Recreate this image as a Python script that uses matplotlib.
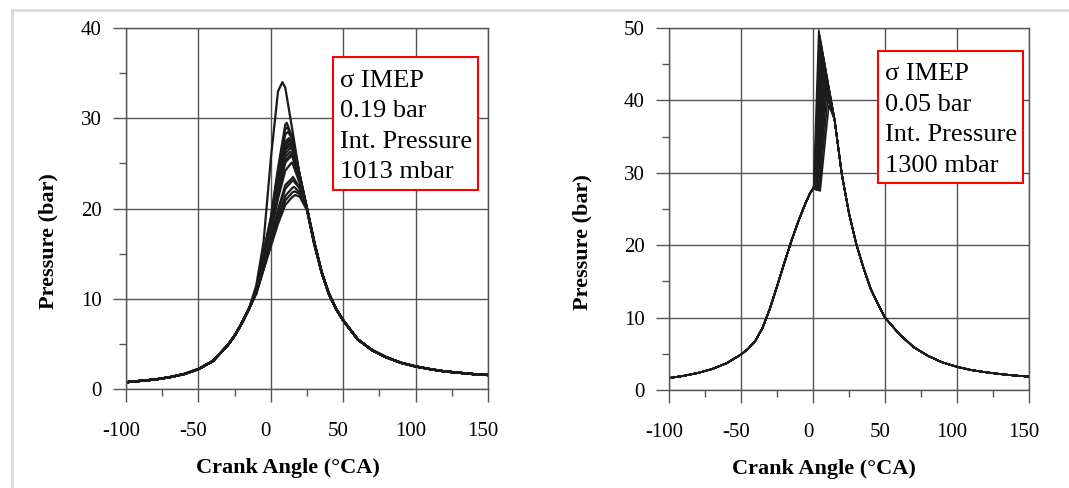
import numpy as np
import matplotlib.pyplot as plt
from matplotlib.lines import Line2D
from matplotlib.patches import Rectangle
from matplotlib.transforms import ScaledTranslation

plt.rcParams['font.family'] = ['Liberation Serif', 'DejaVu Serif']
plt.rcParams['axes.unicode_minus'] = False

# ---- left panel: int. pressure 1013 mbar ----
left_mot_ang = [-100, -90, -80, -70, -60, -50, -40, -30, -25, -20, -15]
left_mot_p = [0.75, 0.9, 1.05, 1.3, 1.65, 2.2, 3.1, 4.8, 5.9, 7.3, 8.9]

left_cyc_ang = [-10, -5, 0, 5, 10, 15, 20, 25, 30]
left_cycles = [
    [11.5, 16.3, 25.5, 33.0, 33.4, 28.6, 23.6, 20.0, 16.3],
    [11.1, 15.2, 19.0, 24.5, 29.3, 27.8, 23.6, 19.9, 16.0],
    [11.1, 15.1, 18.8, 24.1, 28.8, 27.7, 23.6, 19.9, 16.1],
    [11.0, 14.9, 18.6, 23.7, 28.2, 27.6, 23.7, 20.0, 16.1],
    [11.0, 14.8, 18.3, 23.2, 27.4, 27.3, 23.6, 19.9, 16.2],
    [11.0, 14.7, 18.2, 23.0, 27.1, 27.3, 23.7, 20.0, 16.2],
    [10.9, 14.7, 18.2, 22.9, 27.0, 27.2, 23.6, 19.9, 16.1],
    [10.9, 14.6, 18.1, 22.7, 26.7, 26.9, 23.5, 19.9, 16.2],
    [10.9, 14.6, 18.0, 22.6, 26.5, 26.8, 23.5, 20.0, 16.3],
    [10.9, 14.5, 17.9, 22.3, 26.1, 26.5, 23.4, 19.9, 16.2],
    [10.9, 14.4, 17.7, 22.0, 25.7, 26.1, 23.2, 19.9, 16.2],
    [10.8, 14.3, 17.6, 21.8, 25.3, 25.9, 23.2, 20.0, 16.3],
    [10.8, 14.3, 17.5, 21.6, 25.1, 25.7, 23.1, 19.9, 16.2],
    [10.8, 14.1, 17.2, 21.1, 24.2, 25.0, 22.8, 19.9, 16.2],
    [10.7, 13.7, 16.6, 19.9, 22.6, 23.4, 22.3, 20.0, 16.3],
    [10.7, 13.6, 16.4, 19.6, 22.2, 23.1, 22.2, 20.0, 16.3],
    [10.6, 13.4, 16.1, 19.0, 21.4, 22.3, 21.8, 19.9, 16.2],
    [10.6, 13.3, 15.9, 18.6, 20.9, 21.8, 21.6, 19.9, 16.2],
    [10.6, 13.2, 15.8, 18.3, 20.4, 21.3, 21.3, 19.8, 16.1],
]
left_peak_ang = [8, 11, 11.5, 12, 12.5, 13, 13, 13, 13.5, 13.5, 13.5, 14, 14, 14.5, 15.3, 15.5, 16, 16.5, 17]
left_peak_p = [34.0, 29.5, 29.0, 28.5, 27.8, 27.6, 27.5, 27.2, 27.0, 26.7, 26.3, 26.0, 25.8, 25.1,
               23.5, 23.1, 22.4, 21.9, 21.5]

left_exp_ang = [35, 40, 45, 50, 60, 70, 80, 90, 100, 110, 120, 130, 140, 150]
left_exp_p = [13.0, 10.6, 8.9, 7.6, 5.5, 4.3, 3.5, 2.9, 2.5, 2.2, 1.95, 1.8, 1.65, 1.55]

# ---- right panel: int. pressure 1300 mbar ----
right_mot_ang = [-100, -90, -80, -70, -60, -50, -45, -40, -35, -30, -25, -20, -15, -10, -5, -2, 0]
right_mot_p = [1.65, 1.95, 2.35, 2.9, 3.7, 4.9, 5.7, 6.8, 8.6, 11.2, 14.3, 17.5, 20.6, 23.4, 25.9, 27.2, 27.8]

right_ign_ang = [0.5, 0.8, 1.0, 1.2, 1.5, 1.7, 2.0, 2.2, 2.5, 2.7, 3.0, 3.3, 3.6, 4.0, 4.5, 5.0]
right_ign_p = [28.3, 28.2, 28.2, 28.1, 28.0, 28.0, 28.0, 27.9, 27.9, 27.8, 27.8, 27.7, 27.7, 27.6, 27.6, 27.5]
right_pk_ang = [4.0, 4.5, 5.0, 5.3, 5.8, 6.0, 6.5, 6.8, 7.2, 7.5, 8.0, 8.5, 9.0, 9.5, 10.2, 11.0]
right_pk_p = [49.7, 49.0, 48.3, 47.8, 47.0, 46.5, 45.8, 45.2, 44.5, 44.0, 43.3, 42.5, 41.8, 41.0, 40.2, 39.3]

right_exp_ang = [15, 20, 25, 30, 35, 40, 45, 50, 60, 70, 80, 90, 100, 110, 120, 130, 140, 150]
right_exp_p = [37.3, 29.8, 24.4, 20.2, 16.9, 14.0, 11.9, 10.0, 7.7, 5.9, 4.7, 3.8, 3.2, 2.75, 2.45, 2.2, 2.0, 1.85]

box_left = 'σ IMEP\n0.19 bar\nInt. Pressure\n1013 mbar'
box_right = 'σ IMEP\n0.05 bar\nInt. Pressure\n1300 mbar'

W, H = 1069, 488
fig = plt.figure(figsize=(W / 100, H / 100), dpi=100)
ax1 = fig.add_axes([126 / W, (H - 389) / H, 362 / W, 361 / H])
ax2 = fig.add_axes([669 / W, (H - 390) / H, 360 / W, 362 / H])

# thin grey frame round the picture
fig.add_artist(Line2D([12 / W, 12 / W], [0, 1 - 10 / H], color='#d9d9d9', lw=2))
fig.add_artist(Line2D([12 / W, 1], [1 - 10 / H, 1 - 10 / H], color='#d9d9d9', lw=2))

line_col = '#1c1c1c'
for k in range(len(left_peak_p)):
    ang = np.array(left_mot_ang + left_cyc_ang + [left_peak_ang[k]] + left_exp_ang)
    p = np.array(left_mot_p + left_cycles[k] + [left_peak_p[k]] + left_exp_p)
    o = np.argsort(ang)
    ax1.plot(ang[o], p[o], color=line_col, lw=1.6)

for k in range(len(right_pk_p)):
    ang = right_mot_ang + [right_ign_ang[k], right_pk_ang[k]] + right_exp_ang
    p = right_mot_p + [right_ign_p[k], right_pk_p[k]] + right_exp_p
    ax2.plot(ang, p, color=line_col, lw=1.2)

grid_col = '#555555'
shift = ScaledTranslation(-5 / 100, 0, fig.dpi_scale_trans)
for ax, ymax, bx, txt in [(ax1, 40, (0.572, 0.551, 0.400, 0.369), box_left),
                          (ax2, 50, (0.581, 0.571, 0.401, 0.366), box_right)]:
    ax.set_xlim(-100, 150)
    ax.set_ylim(0, ymax)
    ax.set_xticks([-100, -50, 0, 50, 100, 150])
    ax.set_xticks([-75, -25, 25, 75, 125], minor=True)
    ax.set_yticks(np.arange(0, ymax + 1, 10))
    ax.set_yticks(np.arange(5, ymax, 10), minor=True)
    ax.grid(True, which='major', color=grid_col, lw=1.0)
    for s in ax.spines.values():
        s.set_color(grid_col)
        s.set_linewidth(1.0)
    ax.tick_params(which='major', direction='out', length=9.5, width=1.0, color=grid_col,
                   labelsize=15, pad=8, labelcolor='black')
    ax.tick_params(which='minor', direction='out', length=5, width=1.0, color=grid_col)
    ax.tick_params(axis='x', which='major', pad=14)
    for lab in ax.get_xticklabels():
        lab.set_transform(lab.get_transform() + shift)
    ax.set_xlabel('Crank Angle (°CA)', fontsize=16, fontweight='bold')
    ax.set_ylabel('Pressure (bar)', fontsize=16, fontweight='bold')
    ax.add_patch(Rectangle((bx[0], bx[1]), bx[2], bx[3], transform=ax.transAxes,
                           facecolor='white', edgecolor='#ff0000', lw=1.5, zorder=5))
    ax.text(bx[0] + 0.02, bx[1] + bx[3] - 0.035, txt, transform=ax.transAxes, ha='left', va='top',
            fontsize=19, linespacing=1.5, zorder=6)

ax1.xaxis.set_label_coords(0.447, -0.191)
ax2.xaxis.set_label_coords(0.429, -0.191)
ax1.yaxis.set_label_coords(-0.187, 0.41)
ax2.yaxis.set_label_coords(-0.213, 0.41)

fig.savefig('out.png', dpi=100)
